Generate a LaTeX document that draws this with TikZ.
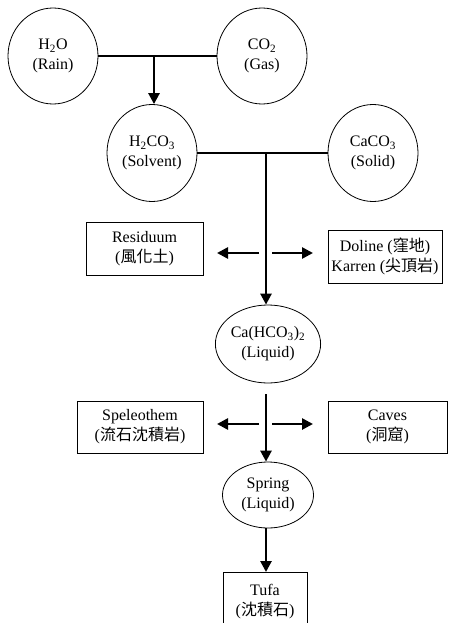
\documentclass[tikz,border=0pt]{standalone}
\usepackage{fontspec}
\setmainfont{Liberation Serif}
\newfontfamily\cjk{Noto Sans CJK TC}
\usetikzlibrary{shapes.geometric,arrows.meta}
\begin{document}
\begin{tikzpicture}[x=1pt,y=-1pt,
  every node/.style={font=\fontsize{16}{20}\selectfont, align=center, text=black},
  bubble/.style={draw, ellipse, line width=0.8pt, inner sep=0pt},
  tbox/.style={draw, rectangle, line width=0.8pt, inner sep=0pt},
  link/.style={line width=2.6pt},
  flow/.style={line width=2.6pt, -{Triangle[width=11pt,length=11pt]}}]
\useasboundingbox (0,0) rectangle (449,623);
% top row
\node[bubble, minimum width=90, minimum height=96] (h2o) at (53,56) {H\textsubscript{2}O\\(Rain)};
\node[bubble, minimum width=90, minimum height=96] (co2) at (262,56) {CO\textsubscript{2}\\(Gas)};
\node[bubble, minimum width=90, minimum height=97] (h2co3) at (152,153) {H\textsubscript{2}CO\textsubscript{3}\\(Solvent)};
\node[bubble, minimum width=90, minimum height=97] (caco3) at (373,153) {CaCO\textsubscript{3}\\(Solid)};
\node[bubble, minimum width=92, minimum height=78] (cahco) at (268,344) {Ca(HCO\textsubscript{3})\textsubscript{2}\\(Liquid)};
\node[bubble, minimum width=91, minimum height=66] (spring) at (268,495) {Spring\\(Liquid)};
% boxes
\node[tbox, minimum width=117, minimum height=53] (resid) at (144.5,248.5) {Residuum\\({\cjk 風化土})};
\node[tbox, minimum width=114, minimum height=53] (doline) at (385,256.5) {Doline ({\cjk 窪地})\\Karren ({\cjk 尖頂岩})};
\node[tbox, minimum width=126, minimum height=52] (speleo) at (140,427) {Speleothem\\({\cjk 流石沈積岩})};
\node[tbox, minimum width=119, minimum height=52] (caves) at (387.5,427) {Caves\\({\cjk 洞窟})};
\node[tbox, minimum width=84, minimum height=58, anchor=north] (tufa) at (265,572) {Tufa\\({\cjk 沈積石})};
% connectors
\draw[link] (h2o.east) -- (co2.west);
\coordinate (j1) at (154,56);
\draw[flow] (j1) -- (j1 |- h2co3.north);
\draw[link] (h2co3.east) -- (caco3.west);
\coordinate (j2) at (266,153);
\draw[flow] (j2) -- (j2 |- cahco.north);
\coordinate (l1) at (259,253);
\coordinate (r1) at (272,253);
\draw[flow] (l1) -- (217,253);
\draw[flow] (r1) -- (313,253);
\coordinate (j3) at (266,394);
\draw[flow] (j3) -- (j3 |- spring.north);
\coordinate (l2) at (259,424);
\coordinate (r2) at (272,424);
\draw[flow] (l2) -- (217,424);
\draw[flow] (r2) -- (313,424);
\coordinate (j4) at (266,528);
\draw[flow] (j4) -- (j4 |- tufa.north);
\end{tikzpicture}
\end{document}
